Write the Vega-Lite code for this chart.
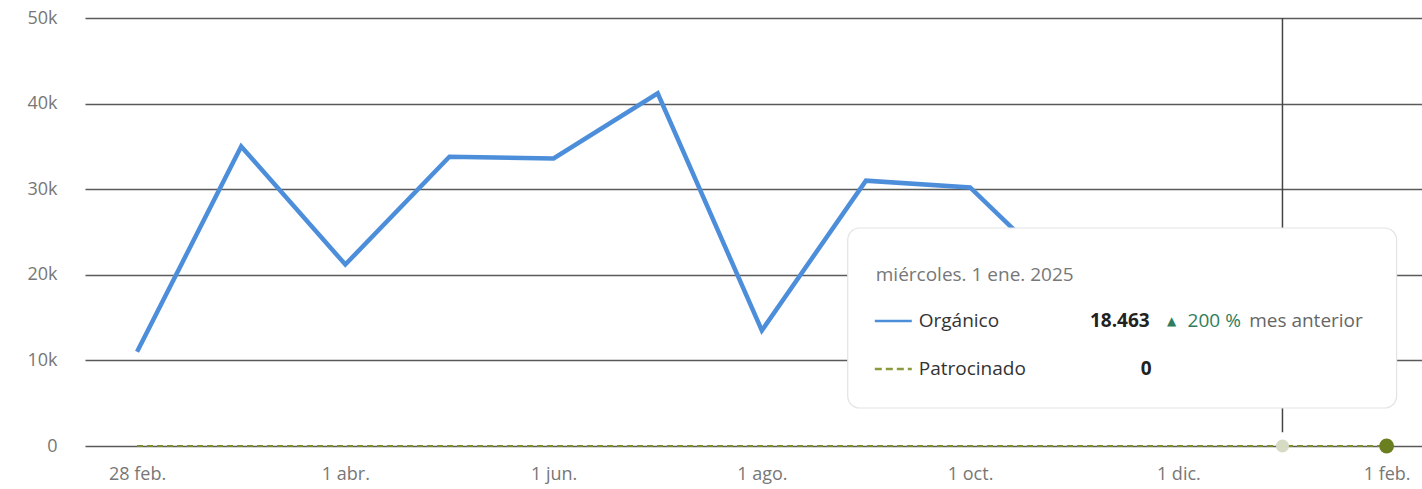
{
  "$schema": "https://vega.github.io/schema/vega-lite/v6.json",
  "width": 1337,
  "height": 428,
  "autosize": {"type": "none"},
  "padding": {"left": 85, "top": 18, "right": 0, "bottom": 43},
  "background": "white",
  "config": {
    "view": {"stroke": null},
    "font": "Open Sans"
  },
  "datasets": {
    "series": [
      {"i": 0, "month": "2024-02-28", "Orgánico": 11000, "Patrocinado": 0},
      {"i": 1, "month": "2024-03-01", "Orgánico": 35000, "Patrocinado": 0},
      {"i": 2, "month": "2024-04-01", "Orgánico": 21200, "Patrocinado": 0},
      {"i": 3, "month": "2024-05-01", "Orgánico": 33800, "Patrocinado": 0},
      {"i": 4, "month": "2024-06-01", "Orgánico": 33600, "Patrocinado": 0},
      {"i": 5, "month": "2024-07-01", "Orgánico": 41200, "Patrocinado": 0},
      {"i": 6, "month": "2024-08-01", "Orgánico": 13500, "Patrocinado": 0},
      {"i": 7, "month": "2024-09-01", "Orgánico": 31000, "Patrocinado": 0},
      {"i": 8, "month": "2024-10-01", "Orgánico": 30200, "Patrocinado": 0},
      {"i": 9, "month": "2024-11-01", "Orgánico": 18500, "Patrocinado": 0},
      {"i": 10, "month": "2024-12-01", "Orgánico": 6154, "Patrocinado": 0},
      {"i": 11, "month": "2025-01-01", "Orgánico": 18463, "Patrocinado": 0},
      {"i": 12, "month": "2025-02-01", "Orgánico": 14000, "Patrocinado": 0}
    ],
    "box": [{"x1": 6.825, "x2": 12.096, "y1": 4440, "y2": 25470}],
    "texts": [
      {"x": 7.094, "y": 20000, "t": "miércoles. 1 ene. 2025", "role": "date"},
      {"x": 7.507, "y": 14600, "t": "Orgánico", "role": "name"},
      {"x": 7.507, "y": 9000, "t": "Patrocinado", "role": "name"},
      {"x": 9.725, "y": 14600, "t": "18.463", "role": "value"},
      {"x": 9.744, "y": 9000, "t": "0", "role": "value"},
      {"x": 10.089, "y": 14600, "t": "200 %", "role": "pct"},
      {"x": 10.68, "y": 14600, "t": "mes anterior", "role": "note"}
    ],
    "arrow": [{"x": 9.936, "y": 14600, "t": "▲"}],
    "keys": [
      {"x1": 7.085, "x2": 7.44, "y": 14600, "s": "Orgánico"},
      {"x1": 7.085, "x2": 7.44, "y": 9000, "s": "Patrocinado"}
    ]
  },
  "layer": [
    {
      "data": {"name": "series"},
      "mark": {"type": "line", "color": "#7d8c2e", "strokeWidth": 2, "strokeDash": [6, 4]},
      "encoding": {
        "x": {
          "field": "i", "type": "quantitative",
          "scale": {"domain": [-0.5, 12.34], "nice": false, "zero": false},
          "axis": {
            "values": [0, 2, 4, 6, 8, 10, 12],
            "labelExpr": "['28 feb.','1 abr.','1 jun.','1 ago.','1 oct.','1 dic.','1 feb.'][datum.value/2]",
            "domain": false, "ticks": false, "grid": false, "title": null,
            "labelFontSize": 18, "labelColor": "#777777", "labelPadding": 19,
            "labelFont": "Open Sans"
          }
        },
        "y": {
          "field": "Patrocinado", "type": "quantitative",
          "scale": {"domain": [0, 50000], "nice": false},
          "axis": {
            "values": [0, 10000, 20000, 30000, 40000, 50000],
            "labelExpr": "datum.value == 0 ? '0' : (datum.value/1000) + 'k'",
            "domain": false, "ticks": false, "title": null,
            "grid": true, "gridColor": "#5a5a5a", "gridWidth": 1.6,
            "labelFontSize": 18, "labelColor": "#777777", "labelPadding": 28,
            "labelFont": "Open Sans"
          }
        }
      }
    },
    {
      "data": {"name": "series"},
      "mark": {"type": "line", "color": "#4d8edb", "strokeWidth": 4.5, "strokeJoin": "miter"},
      "encoding": {
        "x": {"field": "i", "type": "quantitative"},
        "y": {"field": "Orgánico", "type": "quantitative"}
      }
    },
    {
      "data": {"name": "series"},
      "transform": [{"filter": "datum.i == 11"}],
      "mark": {"type": "rule", "color": "#444444", "strokeWidth": 1.5},
      "encoding": {
        "x": {"field": "i", "type": "quantitative"},
        "y": {"datum": 50000},
        "y2": {"datum": 1600}
      }
    },
    {
      "data": {"name": "series"},
      "transform": [{"filter": "datum.i == 11"}],
      "mark": {"type": "point", "filled": true, "color": "#d6dbc4", "opacity": 1, "size": 170},
      "encoding": {
        "x": {"field": "i", "type": "quantitative"},
        "y": {"field": "Patrocinado", "type": "quantitative"}
      }
    },
    {
      "data": {"name": "series"},
      "transform": [{"filter": "datum.i == 12"}],
      "mark": {"type": "point", "filled": true, "color": "#6a7f1f", "opacity": 1, "size": 220},
      "encoding": {
        "x": {"field": "i", "type": "quantitative"},
        "y": {"field": "Patrocinado", "type": "quantitative"}
      }
    },
    {
      "data": {"name": "box"},
      "mark": {"type": "rect", "fill": "white", "stroke": "#e3e3e3", "strokeWidth": 1.2, "cornerRadius": 12},
      "encoding": {
        "x": {"field": "x1", "type": "quantitative"},
        "x2": {"field": "x2"},
        "y": {"field": "y1", "type": "quantitative"},
        "y2": {"field": "y2"}
      }
    },
    {
      "data": {"name": "keys"},
      "transform": [{"filter": "datum.s == 'Orgánico'"}],
      "mark": {"type": "rule", "color": "#4d8edb", "strokeWidth": 2.5},
      "encoding": {
        "x": {"field": "x1", "type": "quantitative"},
        "x2": {"field": "x2"},
        "y": {"field": "y", "type": "quantitative"}
      }
    },
    {
      "data": {"name": "keys"},
      "transform": [{"filter": "datum.s == 'Patrocinado'"}],
      "mark": {"type": "rule", "color": "#8a9a3c", "strokeWidth": 2.5, "strokeDash": [7, 4]},
      "encoding": {
        "x": {"field": "x1", "type": "quantitative"},
        "x2": {"field": "x2"},
        "y": {"field": "y", "type": "quantitative"}
      }
    },
    {
      "data": {"name": "texts"},
      "transform": [{"filter": "datum.role == 'date'"}],
      "mark": {"type": "text", "align": "left", "baseline": "middle", "fontSize": 19, "color": "#777777"},
      "encoding": {
        "x": {"field": "x", "type": "quantitative"},
        "y": {"field": "y", "type": "quantitative"},
        "text": {"field": "t"}
      }
    },
    {
      "data": {"name": "texts"},
      "transform": [{"filter": "datum.role == 'name'"}],
      "mark": {"type": "text", "align": "left", "baseline": "middle", "fontSize": 19, "color": "#333333"},
      "encoding": {
        "x": {"field": "x", "type": "quantitative"},
        "y": {"field": "y", "type": "quantitative"},
        "text": {"field": "t"}
      }
    },
    {
      "data": {"name": "texts"},
      "transform": [{"filter": "datum.role == 'value'"}],
      "mark": {"type": "text", "align": "right", "baseline": "middle", "fontSize": 19, "fontWeight": "bold", "color": "#222222"},
      "encoding": {
        "x": {"field": "x", "type": "quantitative"},
        "y": {"field": "y", "type": "quantitative"},
        "text": {"field": "t"}
      }
    },
    {
      "data": {"name": "texts"},
      "transform": [{"filter": "datum.role == 'pct'"}],
      "mark": {"type": "text", "align": "left", "baseline": "middle", "fontSize": 19, "color": "#2f7d5c"},
      "encoding": {
        "x": {"field": "x", "type": "quantitative"},
        "y": {"field": "y", "type": "quantitative"},
        "text": {"field": "t"}
      }
    },
    {
      "data": {"name": "texts"},
      "transform": [{"filter": "datum.role == 'note'"}],
      "mark": {"type": "text", "align": "left", "baseline": "middle", "fontSize": 19, "color": "#666666"},
      "encoding": {
        "x": {"field": "x", "type": "quantitative"},
        "y": {"field": "y", "type": "quantitative"},
        "text": {"field": "t"}
      }
    },
    {
      "data": {"name": "arrow"},
      "mark": {"type": "text", "align": "center", "baseline": "middle", "fontSize": 12, "color": "#2f7d5c", "font": "DejaVu Sans"},
      "encoding": {
        "x": {"field": "x", "type": "quantitative"},
        "y": {"field": "y", "type": "quantitative"},
        "text": {"field": "t"}
      }
    }
  ]
}
